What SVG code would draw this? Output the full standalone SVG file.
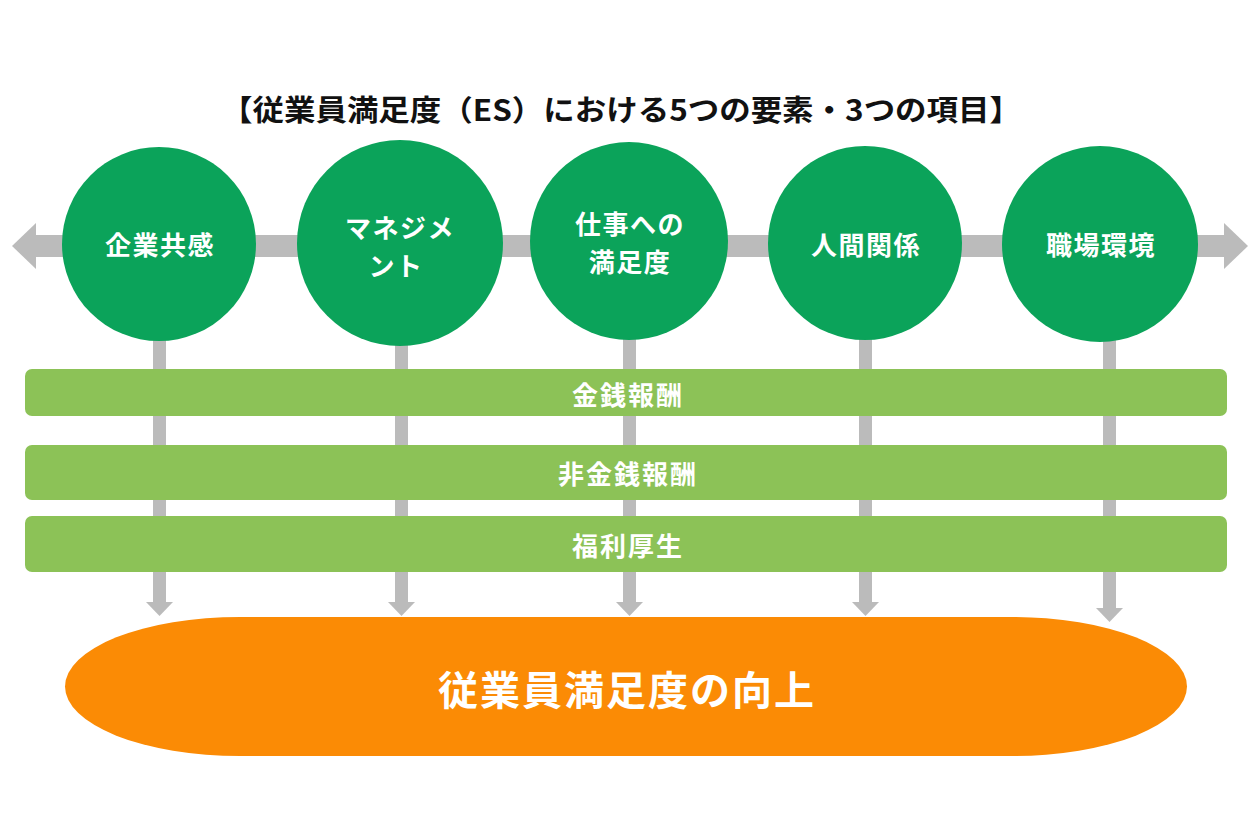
<svg xmlns="http://www.w3.org/2000/svg" width="1260" height="840" viewBox="0 0 1260 840">
<style>
.t{font-family:"Noto Sans CJK JP","Noto Sans",sans-serif;font-weight:bold;text-anchor:middle;dominant-baseline:central;}
.w{fill:#ffffff;}
.c{fill:#0BA35A;}
.bar{fill:#8CC257;}
.g{fill:#BBBBBB;}
</style>
<rect width="1260" height="840" fill="#ffffff"/>
<text class="t" x="621" y="108" font-size="29" fill="#111111" textLength="800" lengthAdjust="spacingAndGlyphs">【従業員満足度（ES）における5つの要素・3つの項目】</text>
<g id="connectors">
  <rect class="g" x="34" y="235" width="1192" height="22"/>
  <polygon class="g" points="12,246 36,223 36,269"/>
  <polygon class="g" points="1248,246 1224,223 1224,269"/>
  <rect class="g" x="153" y="320" width="13" height="284"/>
  <polygon class="g" points="146,602 173,602 159.5,616"/>
  <rect class="g" x="395" y="320" width="13" height="284"/>
  <polygon class="g" points="388,602 415,602 401.5,616"/>
  <rect class="g" x="623" y="320" width="13" height="284"/>
  <polygon class="g" points="616,602 643,602 629.5,616"/>
  <rect class="g" x="859" y="320" width="13" height="284"/>
  <polygon class="g" points="852,602 879,602 865.5,616"/>
  <rect class="g" x="1103" y="320" width="13" height="290"/>
  <polygon class="g" points="1096,608 1123,608 1109.5,622"/>
</g>
<g id="node-kigyo"><circle class="c" cx="159" cy="244" r="97"/><text class="t w" x="160" y="243" font-size="26" letter-spacing="1.5">企業共感</text></g>
<g id="node-management"><circle class="c" cx="400" cy="243" r="103"/><text class="t w" x="400" y="226" font-size="26" letter-spacing="1.5">マネジメ</text><text class="t w" x="396" y="264" font-size="26" letter-spacing="1.5">ント</text></g>
<g id="node-shigoto"><circle class="c" cx="629" cy="241" r="99"/><text class="t w" x="630" y="222" font-size="26" letter-spacing="1.5">仕事への</text><text class="t w" x="630" y="260" font-size="26" letter-spacing="1.5">満足度</text></g>
<g id="node-ningen"><circle class="c" cx="865" cy="243" r="97"/><text class="t w" x="866" y="243" font-size="26" letter-spacing="1.5">人間関係</text></g>
<g id="node-shokuba"><circle class="c" cx="1100" cy="244" r="98"/><text class="t w" x="1101" y="243" font-size="26" letter-spacing="1.5">職場環境</text></g>
<g id="bar-kinsen"><rect class="bar" x="25" y="369" width="1202" height="47" rx="7"/><text class="t w" x="628" y="393" font-size="26" letter-spacing="2">金銭報酬</text></g>
<g id="bar-hikinsen"><rect class="bar" x="25" y="445" width="1202" height="55" rx="7"/><text class="t w" x="628" y="472" font-size="26" letter-spacing="2">非金銭報酬</text></g>
<g id="bar-fukuri"><rect class="bar" x="25" y="516" width="1202" height="56" rx="7"/><text class="t w" x="628" y="544" font-size="26" letter-spacing="2">福利厚生</text></g>
<g id="node-result"><path fill="#FB8B05" d="M240,617 H1012 A175,69.5 0 0 1 1012,756 H240 A175,69.5 0 0 1 240,617 Z"/><text class="t w" x="627" y="688" font-size="40" letter-spacing="2">従業員満足度の向上</text></g>
</svg>
